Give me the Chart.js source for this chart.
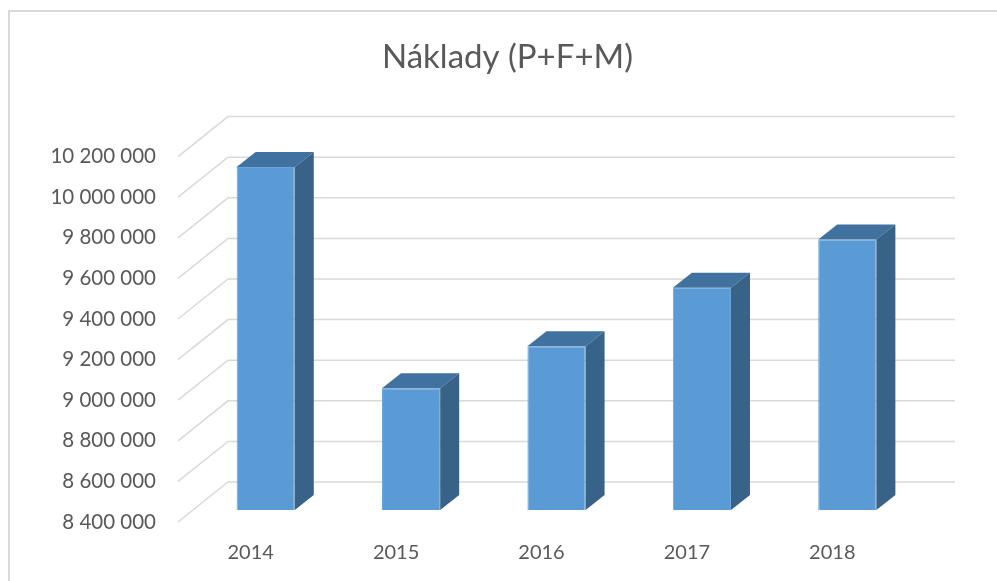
<!DOCTYPE html>
<html>
<head>
<meta charset="utf-8">
<script src="https://cdn.jsdelivr.net/npm/chart.js@4.4.1/dist/chart.umd.min.js"></script>
<style>
  html, body { margin: 0; padding: 0; background: #ffffff; }
  #wrap { width: 997px; height: 581px; position: relative; }
</style>
</head>
<body>
<div id="wrap"><canvas id="c" width="997" height="581"></canvas></div>
<script>
// ---- data ----
const categories = ['2014', '2015', '2016', '2017', '2018'];
const costs = [10090000, 9000000, 9207000, 9495000, 9733000];
const yMin = 8400000;
const yMax = 10200000;
const yStep = 200000;
const chartTitle = 'Náklady (P+F+M)';

// ---- 3D look (oblique projection) ----
const FRONT = { dx: -15, dy: 12 };   // floor front edge relative to bar plane
const BACK = { dx: 35, dy: -28 };    // back wall relative to bar plane
const BAR_DEPTH = { dx: 19, dy: -15 };
const FONT = 'Lato, "Open Sans", sans-serif';

function fmt(v) {
  return Math.round(v).toString().replace(/\B(?=(\d{3})+(?!\d))/g, ' ');
}

const plugin3d = {
  id: 'plugin3d',
  beforeDraw(chart) {
    const ctx = chart.ctx;
    ctx.save();
    ctx.fillStyle = '#ffffff';
    ctx.fillRect(0, 0, chart.width, chart.height);
    ctx.strokeStyle = '#d9d9d9';
    ctx.lineWidth = 2;
    ctx.strokeRect(9, 11, chart.width + 20, chart.height + 20);
    ctx.restore();
  },
  beforeDatasetsDraw(chart) {
    const ctx = chart.ctx;
    const ys = chart.scales.y;
    const area = chart.chartArea;
    ctx.save();
    ctx.strokeStyle = '#d9d9d9';
    ctx.lineWidth = 1.5;
    ys.ticks.forEach(t => {
      const y = ys.getPixelForValue(t.value);
      ctx.beginPath();
      ctx.moveTo(area.left + FRONT.dx, y + FRONT.dy);
      ctx.lineTo(area.left + BACK.dx, y + BACK.dy);
      ctx.lineTo(area.right + BACK.dx, y + BACK.dy);
      ctx.stroke();
    });
    ctx.restore();
  },
  afterDatasetsDraw(chart) {
    const ctx = chart.ctx;
    const meta = chart.getDatasetMeta(0);
    const area = chart.chartArea;
    ctx.save();
    meta.data.forEach(bar => {
      const p = bar.getProps(['x', 'y', 'base', 'width'], true);
      const x0 = p.x - p.width / 2;
      const x1 = p.x + p.width / 2;
      const top = p.y;
      const base = Math.min(p.base, area.bottom);
      // top face
      ctx.fillStyle = '#41729f';
      ctx.beginPath();
      ctx.moveTo(x0, top);
      ctx.lineTo(x1, top);
      ctx.lineTo(x1 + BAR_DEPTH.dx, top + BAR_DEPTH.dy);
      ctx.lineTo(x0 + BAR_DEPTH.dx, top + BAR_DEPTH.dy);
      ctx.closePath();
      ctx.fill();
      // side face
      ctx.fillStyle = '#386287';
      ctx.beginPath();
      ctx.moveTo(x1, top);
      ctx.lineTo(x1 + BAR_DEPTH.dx, top + BAR_DEPTH.dy);
      ctx.lineTo(x1 + BAR_DEPTH.dx, base + BAR_DEPTH.dy);
      ctx.lineTo(x1, base);
      ctx.closePath();
      ctx.fill();
    });
    ctx.restore();
  }
};

new Chart(document.getElementById('c'), {
  type: 'bar',
  data: {
    labels: categories,
    datasets: [{
      label: chartTitle,
      data: costs,
      backgroundColor: '#5b9bd5',
      borderColor: '#6aa5db',
      borderWidth: 1,
      categoryPercentage: 1.0,
      barPercentage: 0.4
    }]
  },
  options: {
    responsive: false,
    animation: false,
    devicePixelRatio: 1,
    layout: { padding: { left: 18, right: 0, top: 0, bottom: 0 } },
    plugins: {
      legend: { display: false },
      tooltip: { enabled: false },
      title: {
        display: true,
        text: chartTitle,
        color: '#595959',
        font: { family: FONT, size: 33, weight: 'normal' },
        padding: { top: 38, bottom: 67 }
      }
    },
    scales: {
      x: {
        grid: { display: false, drawTicks: false },
        border: { display: false },
        ticks: {
          color: '#595959',
          font: { family: FONT, size: 20 },
          padding: 31,
          labelOffset: FRONT.dx
        },
        afterFit(scale) { scale.height = 71; }
      },
      y: {
        min: yMin,
        max: yMax,
        grid: { display: false, drawTicks: false },
        border: { display: false },
        ticks: {
          stepSize: yStep,
          color: '#595959',
          font: { family: FONT, size: 20.5 },
          padding: 37,
          labelOffset: FRONT.dy,
          callback: (v) => fmt(v)
        },
        afterFit(scale) { scale.width = 175; }
      },
      yRightSpace: {
        position: 'right',
        display: true,
        min: yMin,
        max: yMax,
        grid: { display: false, drawTicks: false },
        border: { display: false },
        ticks: { display: false },
        afterFit(scale) { scale.width = 77; }
      }
    }
  },
  plugins: [plugin3d]
});
</script>
</body>
</html>
